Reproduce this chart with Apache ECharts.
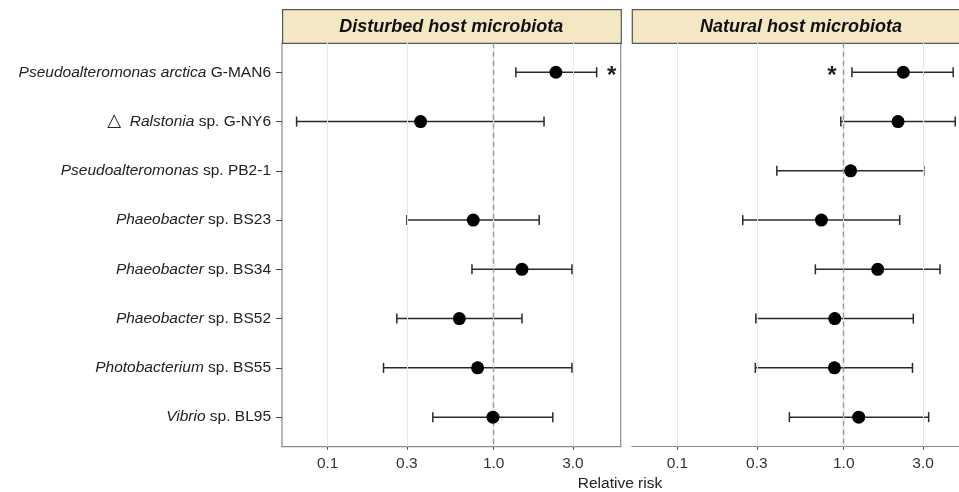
<!DOCTYPE html>
<html>
<head>
<meta charset="utf-8">
<script src="https://cdn.jsdelivr.net/npm/echarts@6/dist/echarts.min.js"></script>
<style>
  html, body { margin: 0; padding: 0; background: #fff; }
  #main { width: 959px; height: 492px; }
</style>
</head>
<body>
<div id="main"></div>
<script>
// row labels (top to bottom)
const prefix = ['', '△', '', '', '', '', '', ''];
const genus = ['Pseudoalteromonas arctica', 'Ralstonia', 'Pseudoalteromonas', 'Phaeobacter',
  'Phaeobacter', 'Phaeobacter', 'Photobacterium', 'Vibrio'];
const strain = ['G-MAN6', 'sp. G-NY6', 'sp. PB2-1', 'sp. BS23', 'sp. BS34', 'sp. BS52', 'sp. BS55', 'sp. BL95'];

// relative risk with 95% CI, disturbed host microbiota
const disturbedRR = [2.37, 0.363, null, 0.753, 1.48, 0.621, 0.80, 0.99];
const disturbedLo = [1.36, 0.065, null, 0.30, 0.74, 0.261, 0.217, 0.43];
const disturbedHi = [4.17, 2.01, null, 1.88, 2.96, 1.48, 2.96, 2.27];

// relative risk with 95% CI, natural host microbiota
const naturalRR = [2.28, 2.12, 1.10, 0.734, 1.60, 0.883, 0.879, 1.23];
const naturalLo = [1.12, 0.96, 0.396, 0.247, 0.675, 0.296, 0.294, 0.471];
const naturalHi = [4.55, 4.68, 3.03, 2.17, 3.79, 2.62, 2.59, 3.24];

// rows marked with an asterisk
const disturbedSig = [0];
const naturalSig = [0];

const xTicks = [0.1, 0.3, 1.0, 3.0];
const panelTitles = ['Disturbed host microbiota', 'Natural host microbiota'];

const FONT = 'Liberation Sans, Arial, sans-serif';
const lg = v => Math.log10(v);
const chart = echarts.init(document.getElementById('main'));

// left panel is complete, right panel is cut off by the picture edge
const panelLeft = [282, 631.7];
const panelW = [338.7, 327.3];
const panelMax = [0.765, 0.693];
const panelTop = 42.7;
const panelH = 404;
const rowH = panelH / 8.2;

const rowLabels = genus.map((g, k) =>
  (prefix[k] ? '{t|' + prefix[k] + '}  ' : '') + '{i|' + g + '} ' + strain[k]);

function xAxisOpt(i) {
  return {
    type: 'value', gridIndex: i, min: -1.275, max: panelMax[i],
    axisLine: { show: true, lineStyle: { color: '#8a8a8a', width: 1.2 } },
    splitLine: { show: false },
    axisTick: { show: true, length: 3, customValues: xTicks.map(lg), lineStyle: { color: '#444' } },
    axisLabel: {
      customValues: xTicks.map(lg), margin: 9, color: '#333', fontSize: 15.5,
      fontFamily: FONT,
      formatter: v => Math.pow(10, v).toFixed(1)
    }
  };
}

function yAxisOpt(i) {
  return {
    type: 'value', gridIndex: i, inverse: true, min: 0.4, max: 8.6,
    axisLine: { show: true, lineStyle: { color: '#8a8a8a', width: 1.2 } },
    splitLine: { show: false },
    axisTick: { show: false },
    axisLabel: { show: false }
  };
}

function errorBars(i, rr, lo, hi) {
  const data = [];
  rr.forEach((v, k) => { if (v != null) data.push([lg(lo[k]), lg(hi[k]), k + 1]); });
  return {
    type: 'custom', xAxisIndex: i, yAxisIndex: i, silent: true,
    encode: { x: [0, 1], y: 2 },
    data: data,
    renderItem: (params, api) => {
      const a = api.coord([api.value(0), api.value(2)]);
      const b = api.coord([api.value(1), api.value(2)]);
      const h = 5;
      const st = { stroke: '#2a2a2a', lineWidth: 1.5 };
      return {
        type: 'group', children: [
          { type: 'line', shape: { x1: a[0], y1: a[1], x2: b[0], y2: b[1] }, style: st },
          { type: 'line', shape: { x1: a[0], y1: a[1] - h, x2: a[0], y2: a[1] + h }, style: st },
          { type: 'line', shape: { x1: b[0], y1: b[1] - h, x2: b[0], y2: b[1] + h }, style: st }
        ]
      };
    }
  };
}

function points(i, rr) {
  const data = [];
  rr.forEach((v, k) => { if (v != null) data.push([lg(v), k + 1]); });
  return {
    type: 'scatter', xAxisIndex: i, yAxisIndex: i, silent: true, z: 5,
    symbol: 'circle', symbolSize: 13, itemStyle: { color: '#000', opacity: 1 },
    data: data,
    markLine: {
      silent: true, symbol: 'none', label: { show: false }, animation: false,
      data: xTicks.map(t => ({ xAxis: lg(t), lineStyle: { color: '#e6e6e6', width: 1, type: 'solid' } }))
        .concat([{ xAxis: 0, lineStyle: { color: '#9a9a9a', width: 1.3, type: [5, 4] } }])
    }
  };
}

// asterisk placed beside an interval end (dx in px)
function stars(i, idx, vals, dx) {
  return {
    type: 'custom', xAxisIndex: i, yAxisIndex: i, silent: true, z: 6,
    data: idx.map(k => [lg(vals[k]), k + 1]),
    renderItem: (params, api) => {
      const p = api.coord([api.value(0), api.value(1)]);
      return {
        type: 'text', x: p[0] + dx, y: p[1] + 4,
        style: {
          text: '*', textAlign: 'center', textVerticalAlign: 'middle',
          font: 'bold 24px "Liberation Sans", Arial, sans-serif', fill: '#222'
        }
      };
    }
  };
}

const graphics = [];
panelTitles.forEach((t, i) => {
  graphics.push({
    type: 'rect', left: panelLeft[i], top: 9, silent: true,
    shape: { width: 338.7, height: panelTop - 9 },
    style: { fill: '#f4e8c4', stroke: '#555', lineWidth: 1.2 }
  });
  graphics.push({
    type: 'text', x: panelLeft[i] + 338.7 / 2, y: (9 + panelTop) / 2 + 1, silent: true,
    style: {
      text: t, textAlign: 'center', textVerticalAlign: 'middle',
      font: 'italic bold 18px "Liberation Sans", Arial, sans-serif', fill: '#111'
    }
  });
});
graphics.push({
  type: 'text', x: 620, y: 484, silent: true,
  style: {
    text: 'Relative risk', textAlign: 'center', textVerticalAlign: 'middle',
    font: '15.5px "Liberation Sans", Arial, sans-serif', fill: '#222'
  }
});

const grids = [0, 1].map(i => ({
  left: panelLeft[i], top: panelTop, width: panelW[i], height: panelH,
  show: i === 0, borderColor: '#8a8a8a', borderWidth: 1.2, backgroundColor: '#fff'
}));
// label grid: one band per row, aligned with rows 1..8 of the panels
grids.push({ left: panelLeft[0], top: panelTop + 0.1 * rowH, width: panelW[0], height: 8 * rowH, show: false });

chart.setOption({
  animation: false,
  backgroundColor: '#fff',
  grid: grids,
  xAxis: [xAxisOpt(0), xAxisOpt(1), { type: 'value', gridIndex: 2, show: false }],
  yAxis: [yAxisOpt(0), yAxisOpt(1), {
    type: 'category', gridIndex: 2, inverse: true, data: rowLabels, boundaryGap: true,
    axisLine: { show: false },
    axisTick: { show: true, alignWithLabel: true, length: 6, lineStyle: { color: '#444' } },
    axisLabel: {
      margin: 11, color: '#222', fontSize: 15.5, fontFamily: FONT, interval: 0,
      rich: {
        i: { fontStyle: 'italic', fontSize: 15.5, color: '#222', fontFamily: FONT },
        t: { fontSize: 18, color: '#222', fontFamily: 'DejaVu Sans, sans-serif' }
      }
    }
  }],
  series: [
    points(0, disturbedRR), errorBars(0, disturbedRR, disturbedLo, disturbedHi),
    points(1, naturalRR), errorBars(1, naturalRR, naturalLo, naturalHi),
    stars(0, disturbedSig, disturbedHi, 15),
    stars(1, naturalSig, naturalLo, -20)
  ],
  graphic: graphics
});
</script>
</body>
</html>
